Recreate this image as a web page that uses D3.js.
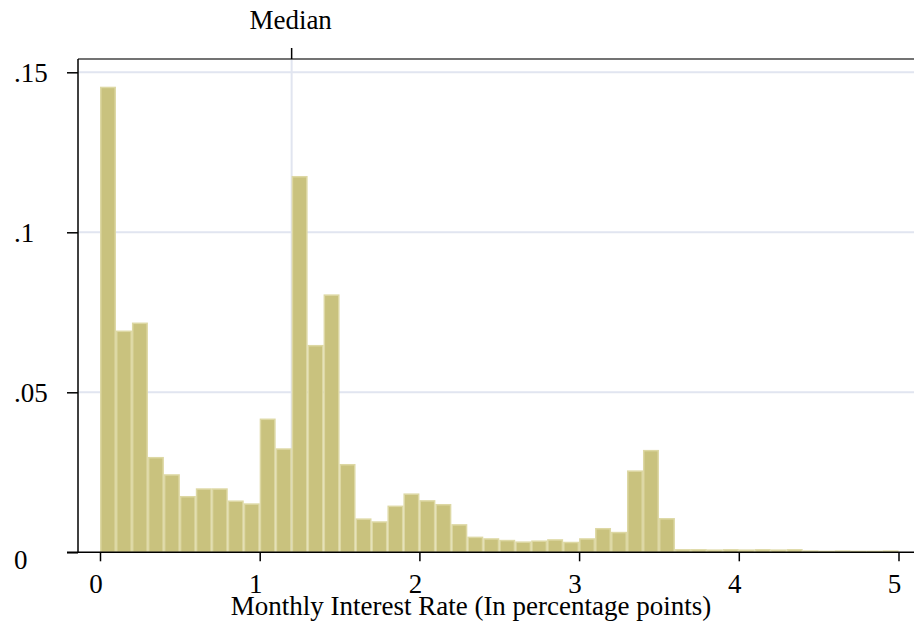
<!DOCTYPE html>
<html>
<head>
<meta charset="utf-8">
<script src="https://cdn.jsdelivr.net/npm/d3@7"></script>
<style>
  body { margin: 0; background: #fff; }
  svg { display: block; }
  text { font-family: "Liberation Serif", "Times New Roman", serif; fill: #000; }
</style>
</head>
<body>
<svg id="chart" width="917" height="630"></svg>
<script>
// ---- data ----
const binLefts = [0.0,0.1,0.2,0.3,0.4,0.5,0.6,0.7,0.8,0.9,
                  1.0,1.1,1.2,1.3,1.4,1.5,1.6,1.7,1.8,1.9,
                  2.0,2.1,2.2,2.3,2.4,2.5,2.6,2.7,2.8,2.9,
                  3.0,3.1,3.2,3.3,3.4,3.5,3.6,3.7,3.8,3.9,
                  4.0,4.1,4.2,4.3,4.4,4.5,4.6,4.7,4.8,4.9];
const binWidth = 0.1;
const density = [0.1455,0.0693,0.0718,0.0298,0.0244,0.0176,0.0200,0.0200,0.0162,0.0153,
                 0.0418,0.0325,0.1176,0.0648,0.0806,0.0276,0.0106,0.0097,0.0146,0.0184,
                 0.0163,0.0151,0.0088,0.0049,0.0044,0.0039,0.0034,0.0037,0.0041,0.0033,
                 0.0044,0.0076,0.0064,0.0256,0.0320,0.0107,0.0010,0.0010,0.0009,0.0010,
                 0.0009,0.0010,0.0009,0.0010,0.0006,0.0005,0.0006,0.0005,0.0005,0.0006];
const xTicks = [0, 1, 2, 3, 4, 5];
const xTickLabels = ["0", "1", "2", "3", "4", "5"];
const yTicks = [0, 0.05, 0.1, 0.15];
const yTickLabels = ["0", ".05", ".1", ".15"];
const medianValue = 1.2;
const medianLabel = "Median";
const xTitle = "Monthly Interest Rate (In percentage points)";

// ---- layout ----
const svg = d3.select("#chart");
const plotLeft = 78, plotRight = 914, plotTop = 59, plotBottom = 552.3;
const x = d3.scaleLinear().domain([0, 5]).range([100, 898.5]);
const y = d3.scaleLinear().domain([0, 0.15]).range([plotBottom, 72.3]);

const gridColor = "#e1e5f0";
const fillColor = "#c9c27e";
const edgeColor = "#ddd8a4";
const fontSize = 27;

// gridlines
svg.append("g").selectAll("line").data(yTicks.filter(d => d > 0)).join("line")
  .attr("x1", plotLeft).attr("x2", plotRight)
  .attr("y1", d => y(d)).attr("y2", d => y(d))
  .attr("stroke", gridColor).attr("stroke-width", 2);

// median line
svg.append("line")
  .attr("x1", x(medianValue)).attr("x2", x(medianValue))
  .attr("y1", plotTop).attr("y2", plotBottom)
  .attr("stroke", gridColor).attr("stroke-width", 2);

// bars
svg.append("g").selectAll("rect").data(binLefts.map((b, i) => ({b, v: density[i]}))).join("rect")
  .attr("x", d => x(d.b) + 0.75)
  .attr("width", d => x(d.b + binWidth) - x(d.b) - 1.5)
  .attr("y", d => y(d.v) + 0.75)
  .attr("height", d => Math.max(0, y(0) - y(d.v) - 0.75))
  .attr("fill", fillColor)
  .attr("stroke", edgeColor)
  .attr("stroke-width", 1.5);

// frame: top border
svg.append("line")
  .attr("x1", plotLeft).attr("x2", plotRight)
  .attr("y1", plotTop).attr("y2", plotTop)
  .attr("stroke", "#444").attr("stroke-width", 1.5);

// left axis
const yAxis = d3.axisLeft(y).tickValues(yTicks).tickSize(11).tickFormat("");
const gy = svg.append("g").attr("transform", `translate(${plotLeft},0)`).call(yAxis);
gy.select(".domain").attr("d", `M-0,${plotTop}V${plotBottom}`).attr("stroke", "#000").attr("stroke-width", 1.5);
gy.selectAll(".tick line").attr("stroke", "#000").attr("stroke-width", 1.5);

svg.append("g").selectAll("text").data(yTicks).join("text")
  .attr("x", 14)
  .attr("y", d => y(d) + (d === 0 ? 7 : 0))
  .attr("dy", "0.35em")
  .attr("text-anchor", "start")
  .style("font-size", fontSize + "px")
  .text((d, i) => yTickLabels[i]);

// bottom axis
const xAxis = d3.axisBottom(x).tickValues(xTicks).tickSize(9).tickFormat("");
const gx = svg.append("g").attr("transform", `translate(0,${plotBottom})`).call(xAxis);
gx.select(".domain").attr("d", `M${plotLeft - 11},0H${plotRight}`).attr("stroke", "#000").attr("stroke-width", 1.5);
gx.selectAll(".tick line").attr("stroke", "#000").attr("stroke-width", 1.5);

svg.append("g").selectAll("text").data(xTicks).join("text")
  .attr("x", d => x(d) - 4)
  .attr("y", 593)
  .attr("text-anchor", "middle")
  .style("font-size", fontSize + "px")
  .text((d, i) => xTickLabels[i]);

// top axis with median tick
svg.append("line")
  .attr("x1", x(medianValue)).attr("x2", x(medianValue))
  .attr("y1", plotTop - 11).attr("y2", plotTop)
  .attr("stroke", "#000").attr("stroke-width", 1.5);
svg.append("text")
  .attr("x", x(medianValue) - 1)
  .attr("y", 29)
  .attr("text-anchor", "middle")
  .style("font-size", fontSize + "px")
  .text(medianLabel);

// x title
svg.append("text")
  .attr("x", 471)
  .attr("y", 615)
  .attr("text-anchor", "middle")
  .style("font-size", fontSize + "px")
  .text(xTitle);
</script>
</body>
</html>
